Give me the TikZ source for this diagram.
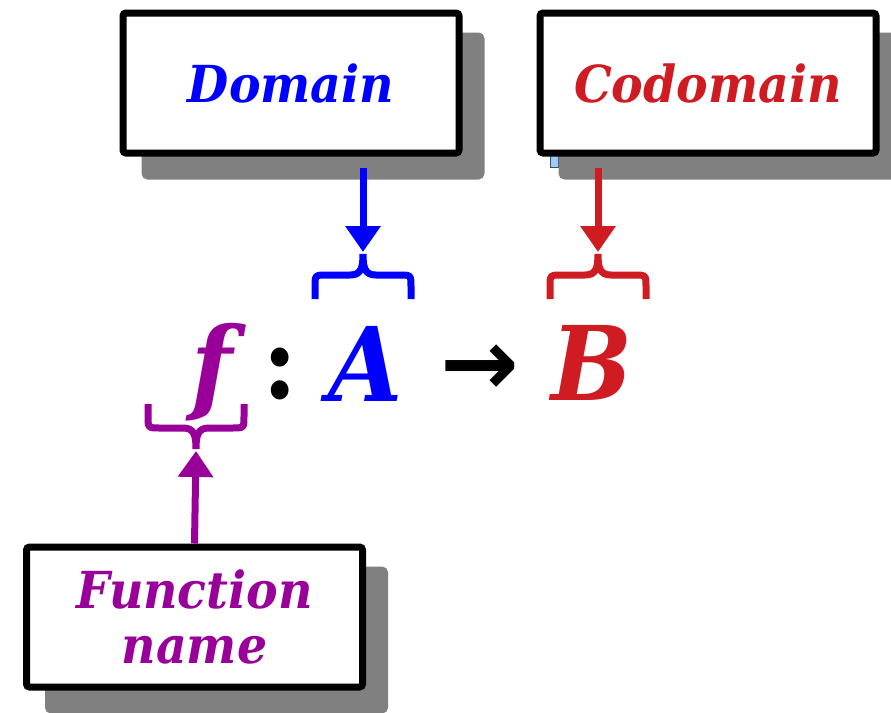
\documentclass[tikz,border=0pt]{standalone}
\usepackage{fontspec}
\setmainfont{DejaVu Serif}[FakeStretch=0.93]
\newfontfamily\arrowfont{DejaVu Sans}
\usetikzlibrary{arrows.meta,shadows}

\definecolor{domblue}{RGB}{0,0,255}
\definecolor{codred}{RGB}{206,28,34}
\definecolor{funpurple}{RGB}{153,0,153}
\definecolor{markblue}{RGB}{153,204,255}

\begin{document}
\begin{tikzpicture}[
    x=1pt, y=-1pt,
    box/.style={
      draw, line width=7pt,
      fill=white,
      rounded corners=3pt,
      minimum width=336pt, minimum height=140pt,
      inner sep=0, align=center,
      font=\fontsize{51}{55}\selectfont\bfseries\itshape,
      drop shadow={shadow xshift=22pt, shadow yshift=-23pt,
        fill=gray, draw=gray, opacity=1}
    },
    sym/.style={
      anchor=base, inner sep=0,
      font=\fontsize{103}{103}\selectfont\bfseries\itshape
    },
    conn/.style={
      line width=7pt,
      -{Triangle[length=26pt, width=34pt]}
    },
    brace/.style={line width=7pt},
  ]
  \useasboundingbox (0,0) rectangle (891,712);

  % small mark left under the codomain box
  \draw[fill=markblue, draw=black!70, line width=1pt] (550,148) rectangle (558,167);

  % boxes
  \node[box, text=domblue] (dom) at (291,83) {Domain};
  \node[box, text=codred] (cod) at (708,83) {Codomain};
  \node[box, text=funpurple] (fname) at (194.5,617) {Function\\name};

  % the formula
  \node[sym, text=funpurple] (f) at (212,401) {f};
  \node[sym, font=\fontsize{103}{103}\selectfont\bfseries] (colon) at (280,398) {:};
  \node[sym, text=domblue] (A) at (366,401) {A};
  \node[sym, font=\fontsize{94}{94}\selectfont\arrowfont\bfseries] (to) at (480,395) {→};
  \node[sym, text=codred] (B) at (592,400) {B};

  % braces
  \foreach \n/\cx/\cy/\d/\col in {
    Atip/363/275/1/domblue,
    Btip/598/275/1/codred,
    ftip/196/428/-1/funpurple}{
    \draw[brace, \col] ({\cx-48},{\cy+24*\d}) -- ({\cx-48},{\cy+12*\d})
      .. controls ({\cx-48},\cy) .. ({\cx-36},\cy) -- ({\cx-13},\cy)
      .. controls ({\cx-2},\cy) and (\cx,{\cy-7*\d}) .. (\cx,{\cy-21*\d})
      .. controls (\cx,{\cy-7*\d}) and ({\cx+2},\cy) .. ({\cx+13},\cy)
      -- ({\cx+36},\cy) .. controls ({\cx+48},\cy) .. ({\cx+48},{\cy+12*\d})
      -- ({\cx+48},{\cy+24*\d});
    \coordinate (\n) at (\cx,{\cy-23*\d});
  }

  % connectors
  \draw[conn, domblue, shorten <=11.5pt] (dom.south -| Atip) -- (Atip);
  \draw[conn, codred, shorten <=11.5pt] (cod.south -| Btip) -- (Btip);
  \draw[conn, funpurple] (fname.north) -- (ftip);
\end{tikzpicture}
\end{document}
